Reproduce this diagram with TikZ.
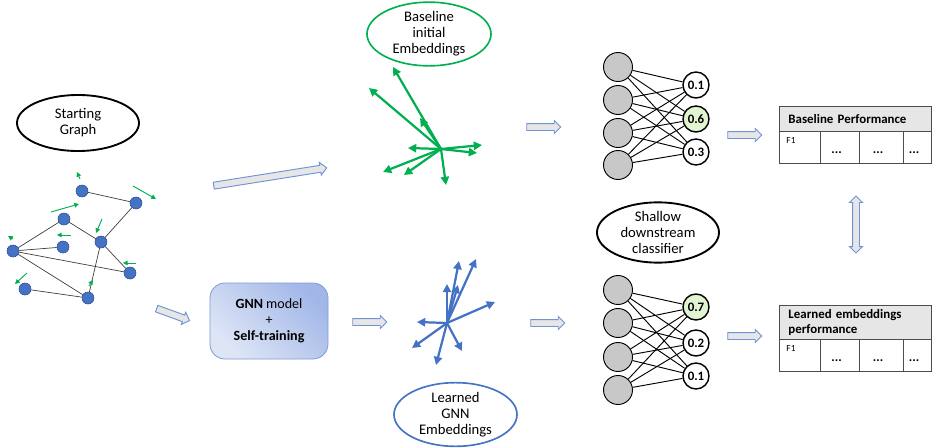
\documentclass[tikz,border=0pt]{standalone}
\usepackage{fontspec}
\setmainfont{Carlito}
\usetikzlibrary{shapes.geometric,shapes.arrows,arrows.meta}

\definecolor{nodeblue}{HTML}{4472C4}
\definecolor{nodeedge}{HTML}{2F528F}
\definecolor{vecgreen}{HTML}{00B050}
\definecolor{vecblue}{HTML}{4472C4}
\definecolor{arrowfill}{HTML}{E7E6E6}
\definecolor{arrowedge}{HTML}{6F93D6}
\definecolor{boxlight}{HTML}{DEE6F6}
\definecolor{boxdark}{HTML}{A2B7E8}
\definecolor{boxedge}{HTML}{7F9CD6}
\definecolor{neurongrey}{HTML}{C8C8C8}
\definecolor{outgreen}{HTML}{E2F5D3}
\definecolor{headgrey}{HTML}{E7E6E6}

\tikzset{
  labelellipse/.style={ellipse, draw, line width=1.6pt, inner sep=0pt, align=center, font=\fontsize{12.5}{13.8}\selectfont},
  gnode/.style={circle, fill=nodeblue, draw=nodeedge, line width=0.5pt, minimum size=0.36cm, inner sep=0pt},
  gedge/.style={draw=black!75, line width=0.6pt},
  gvec/.style={-{Triangle[length=4pt,width=4pt]}, vecgreen, line width=0.8pt},
  bigvec/.style={-{Triangle[length=7pt,width=7pt]}, line width=1.9pt},
  blockarrow/.style={single arrow, draw=arrowedge, fill=arrowfill, line width=0.8pt, inner xsep=0pt, inner ysep=0.09cm, single arrow head extend=0.09cm, single arrow head indent=0pt, minimum width=0.36cm},
  inneuron/.style={circle, draw, fill=neurongrey, line width=0.8pt, minimum size=0.87cm, inner sep=0pt},
  outneuron/.style={circle, draw, fill=white, line width=1.2pt, minimum size=0.78cm, inner sep=0pt, font=\fontsize{11}{12}\selectfont\bfseries},
  nnedge/.style={line width=0.8pt},
  tablehead/.style={rectangle, draw=black!70, fill=headgrey, line width=0.8pt, anchor=north west, minimum width=4.56cm, text width=4.02cm, inner xsep=0.27cm, align=left, font=\fontsize{11}{12.5}\selectfont\bfseries},
  tablecell/.style={rectangle, draw=black!70, line width=0.8pt, anchor=north west, minimum height=0.96cm, inner sep=0pt},
}

\begin{document}
\begin{tikzpicture}[x=0.03cm, y=-0.03cm]
\useasboundingbox (0,0) rectangle (940,448);

% starting graph
\node[labelellipse, minimum width=3.66cm, minimum height=1.68cm] (startlbl) at (78,123) {Starting\\Graph};
\foreach \n/\x/\y in {1/82/191, 2/136/203, 3/64/219, 4/63/247, 5/101/242, 6/13/251, 7/130/273, 8/25/289, 9/88/298}
  \node[gnode] (n\n) at (\x,\y) {};
\foreach \a/\b in {1/2, 2/5, 3/5, 3/6, 6/4, 6/7, 6/9, 5/7, 5/9, 8/9}
  \draw[gedge] (n\a) -- (n\b);
\foreach \xa/\ya/\xb/\yb in {80/179/77/172, 133/186/156/199, 51/212/79/204, 102/219/96/233, 71/235/57/235, 13/239/8/236, 136/263/123/263, 27/273/15/284, 89/286/93/280}
  \draw[gvec] (\xa,\ya) -- (\xb,\yb);

% block arrows
\node[blockarrow, minimum height=3.43cm, rotate=9] (toBase) at (268.5,177) {};
\node[blockarrow, minimum height=1.05cm, rotate=-20] (toGnn) at (171.5,314) {};
\node[blockarrow, minimum height=1.02cm] (fromGnn) at (368,322) {};
\node[blockarrow, minimum height=1.02cm] (toTopNet) at (542,127) {};
\node[blockarrow, minimum height=1.02cm] (toBotNet) at (546,323) {};
\node[blockarrow, minimum height=1.02cm] (toTopTab) at (743,135) {};
\node[blockarrow, minimum height=1.02cm] (toBotTab) at (743,336) {};
\node[double arrow, draw=arrowedge, fill=arrowfill, line width=0.8pt, inner xsep=0pt, inner ysep=0.09cm, double arrow head extend=0.09cm, double arrow head indent=0pt, minimum width=0.36cm, minimum height=1.71cm, rotate=90] (compare) at (856,224.5) {};

% GNN box
\node[rectangle, rounded corners=0.45cm, draw=boxedge, line width=0.7pt, bottom color=boxlight, top color=boxdark, shading angle=-45, minimum width=3.54cm, minimum height=2.28cm, align=center, font=\fontsize{12}{13.8}\selectfont] (gnn) at (269,321) {\textbf{GNN} model\\+\\\textbf{Self-training}};

% embeddings
\node[labelellipse, draw=vecgreen, line width=1.4pt, minimum width=3.72cm, minimum height=1.74cm] (baselbl) at (429,34) {Baseline\\initial\\Embeddings};
\coordinate (gc) at (441,149);
\foreach \x/\y in {393/67, 369/88, 420/118, 482/145, 477/153, 408/148, 383/172, 404/175, 446/185}
  \draw[bigvec, vecgreen] (gc) -- (\x,\y);

\node[labelellipse, draw=vecblue, line width=1.4pt, minimum width=3.69cm, minimum height=1.47cm] (learnlbl) at (455.5,414.5) {Learned\\GNN\\Embeddings};
\coordinate (bc) at (447,323);
\foreach \x/\y in {459/261, 476/259, 447/284, 458/285, 495/302, 417/322, 412/348, 436/365, 462/351}
  \draw[bigvec, vecblue] (bc) -- (\x,\y);

% classifiers
\node[labelellipse, minimum width=3.66cm, minimum height=1.65cm] (shallow) at (658,232.5) {Shallow\\downstream\\classifier};
\foreach \i/\y in {1/67, 2/100, 3/133, 4/165}
  \node[inneuron] (ti\i) at (618,\y) {};
\foreach \i/\y/\v/\c in {1/85/0.1/white, 2/119/0.6/outgreen, 3/152/0.3/white}
  \node[outneuron, fill=\c] (to\i) at (696,\y) {\v};
\foreach \i/\y in {1/290, 2/323, 3/357, 4/390}
  \node[inneuron] (bi\i) at (618,\y) {};
\foreach \i/\y/\v/\c in {1/307/0.7/outgreen, 2/343/0.2/white, 3/376/0.1/white}
  \node[outneuron, fill=\c] (bo\i) at (696,\y) {\v};
\foreach \i in {1,...,4}
  \foreach \j in {1,2,3} {
    \draw[nnedge] (ti\i) -- (to\j);
    \draw[nnedge] (bi\i) -- (bo\j);
  }

% result tables
\node[tablehead, minimum height=0.75cm] (basehead) at (779,106) {Baseline Performance};
\node[tablehead, minimum height=1.02cm] (learnhead) at (779,305) {Learned embeddings\\performance};
\foreach \xa/\xb [count=\i] in {779/820, 820/859, 859/903, 903/931} {
  \node[tablecell, minimum width={(\xb-\xa)*0.03cm}] (basecell\i) at (\xa,131) {};
  \node[tablecell, minimum width={(\xb-\xa)*0.03cm}] (learncell\i) at (\xa,339) {};
}
\node[font=\fontsize{8}{9}\selectfont, anchor=north west] at ([shift={(0.1cm,-0.08cm)}]basecell1.north west) {F1};
\node[font=\fontsize{8}{9}\selectfont, anchor=north west] at ([shift={(0.1cm,-0.08cm)}]learncell1.north west) {F1};
\foreach \i in {2,3,4} {
  \node[font=\fontsize{11}{12}\selectfont\bfseries] at ([shift={(-0.1cm,-0.15cm)}]basecell\i.center) {...};
  \node[font=\fontsize{11}{12}\selectfont\bfseries] at ([shift={(-0.1cm,-0.15cm)}]learncell\i.center) {...};
}
\end{tikzpicture}
\end{document}
